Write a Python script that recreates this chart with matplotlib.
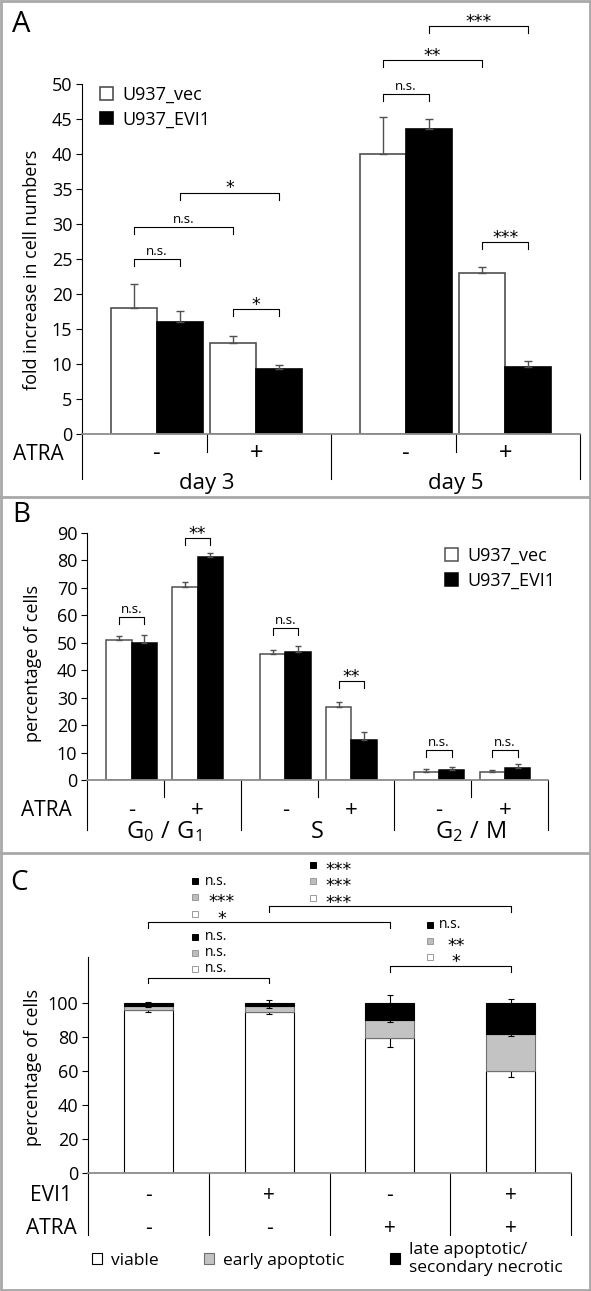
import matplotlib.pyplot as plt
import matplotlib.transforms as mtransforms
from matplotlib.patches import Rectangle
from matplotlib.lines import Line2D

# =============================
# DATA
# =============================
# panel A: fold increase in cell numbers (conditions: day3-, day3+, day5-, day5+)
a_days = ["day 3", "day 5"]
a_atra = ["-", "+", "-", "+"]
a_vec = [18.0, 13.0, 40.0, 23.0]
a_vec_err = [3.5, 1.0, 5.3, 0.9]
a_evi = [16.0, 9.3, 43.6, 9.6]
a_evi_err = [1.6, 0.5, 1.4, 0.9]
a_ticks = [0, 5, 10, 15, 20, 25, 30, 35, 40, 45, 50]
# (condition, series), (condition, series), bracket height, label
a_marks = [((0, 0), (0, 1), 25.0, "n.s."),
           ((0, 0), (1, 0), 29.6, "n.s."),
           ((0, 1), (1, 1), 34.5, "*"),
           ((1, 0), (1, 1), 17.9, "*"),
           ((2, 0), (2, 1), 48.6, "n.s."),
           ((2, 0), (3, 0), 53.4, "**"),
           ((2, 1), (3, 1), 58.3, "***"),
           ((3, 0), (3, 1), 27.4, "***")]

# panel B: cell cycle phases
b_phases = [r"$\mathregular{G_0\ /\ G_1}$", "S", r"$\mathregular{G_2\ /\ M}$"]
b_atra = ["-", "+", "-", "+", "-", "+"]
b_vec = [51.0, 70.3, 46.0, 26.5, 3.0, 2.8]
b_vec_err = [1.5, 2.0, 1.2, 2.0, 1.0, 0.9]
b_evi = [50.0, 81.3, 46.7, 14.7, 3.7, 4.3]
b_evi_err = [2.8, 1.5, 2.0, 2.8, 1.0, 1.7]
b_ticks = [0, 10, 20, 30, 40, 50, 60, 70, 80, 90]
b_mark_y = [59.4, 88.0, 55.5, 36.0, 11.0, 11.0]
b_mark_lab = ["n.s.", "**", "n.s.", "**", "n.s.", "n.s."]

# panel C: viability, stacked
c_evi1 = ["-", "+", "-", "+"]
c_atra = ["-", "-", "+", "+"]
c_viable = [96.0, 95.0, 79.5, 60.0]
c_early = [2.5, 3.0, 10.5, 21.5]
c_late = [1.5, 2.0, 10.0, 18.5]
c_viable_err = [1.0, 1.2, 5.2, 3.6]
c_early_err = [0.6, 1.0, 1.0, 0.8]
c_late_err = [0.5, 1.5, 5.0, 2.2]
c_ticks = [0, 20, 40, 60, 80, 100]
c_legend = ["viable", "early apoptotic", "late apoptotic/\nsecondary necrotic"]
# bar i, bar j, bracket height, marker x, (late, early, viable) labels
c_marks = [(0, 1, 115.0, 0.89, ["n.s.", "n.s.", "n.s."]),
           (0, 2, 147.6, 0.89, ["n.s.", "***", "*"]),
           (1, 3, 157.0, 1.86, ["***", "***", "***"]),
           (2, 3, 122.0, 2.83, ["n.s.", "**", "*"])]

# =============================
# FIGURE
# =============================
plt.rcParams['font.family'] = ['Open Sans', 'DejaVu Sans']
plt.rcParams['mathtext.fontset'] = 'custom'
plt.rcParams['mathtext.rm'] = 'Open Sans'
plt.rcParams['mathtext.it'] = 'Open Sans'

W, H = 591, 1291
fig = plt.figure(figsize=(W / 100, H / 100), dpi=100)
frame_col = "#a8a8a8"
STAR = ['DejaVu Sans']


def fy(py):
    return 1 - py / H


def add_ax(left, right, top, bottom):
    return fig.add_axes([left / W, 1 - bottom / H, (right - left) / W, (bottom - top) / H])


def style(ax, ticks, spine_top):
    for s in ["top", "right"]:
        ax.spines[s].set_visible(False)
    ax.spines["left"].set_bounds(0, spine_top)
    ax.spines["left"].set_linewidth(0.8)
    ax.spines["bottom"].set_color("#8c8c8c")
    ax.spines["bottom"].set_linewidth(1.3)
    ax.set_xticks([])
    ax.set_yticks(ticks)
    ax.tick_params(axis="y", direction="out", length=4, width=0.8, labelsize=13, pad=3)
    ax.patch.set_alpha(0)


def shifted(ax, dx=0, dy=0):
    return mtransforms.offset_copy(ax.transData, fig=fig, x=dx, y=dy, units="dots")


def bracket(ax, x1, x2, y, drop, label, ns_size=9.5, star_size=12.5):
    ax.plot([x1, x1, x2, x2], [y - drop, y, y, y - drop], color="black", lw=0.8, clip_on=False)
    if "*" in label:
        ax.text((x1 + x2) / 2, y, label, ha="center", va="baseline", fontsize=star_size,
                family=STAR, transform=shifted(ax, 0, -1))
    else:
        ax.text((x1 + x2) / 2, y, label, ha="center", va="baseline", fontsize=ns_size,
                transform=shifted(ax, 0, 4))


def vline(ax, x, py_top, py_bot):
    tr = mtransforms.blended_transform_factory(ax.transData, fig.transFigure)
    ax.plot([x, x], [fy(py_top), fy(py_bot)], color="black", lw=0.8, transform=tr, clip_on=False)


def row_text(ax, x, py, s, size):
    tr = mtransforms.blended_transform_factory(ax.transData, fig.transFigure)
    ax.text(x, fy(py), s, ha="center", va="baseline", fontsize=size, transform=tr)


# frames
fig.add_artist(Rectangle((1 / W, 1 / H), (W - 2) / W, (H - 2) / H, transform=fig.transFigure,
                         fill=False, ec=frame_col, lw=2))
for py in [497, 853]:
    fig.add_artist(Line2D([0, 1], [fy(py), fy(py)], color=frame_col, lw=2, transform=fig.transFigure))

# =============================
# PANEL A
# =============================
axA = add_ax(82, 580, 5, 434)
axA.set_xlim(0, 4)
axA.set_ylim(0, 429 / 7.0)
a_w = 0.37


def a_pos(cond, ser):
    p, t = divmod(cond, 2)
    return p * 2 + 0.6 + t * 0.8 + (ser - 0.5) * a_w


bars_a = []
for ser, vals, errs, col, ec in [(0, a_vec, a_vec_err, "white", "#505050"),
                                 (1, a_evi, a_evi_err, "black", "black")]:
    xs = [a_pos(i, ser) for i in range(4)]
    bars_a.append(axA.bar(xs, vals, width=a_w, color=col, edgecolor=ec, lw=1.2))
    axA.errorbar(xs, vals, yerr=[[0] * 4, errs], fmt="none", ecolor="#505050",
                 elinewidth=1, capsize=3, capthick=1)
style(axA, a_ticks, 50)

for (c1, s1), (c2, s2), y, lab in a_marks:
    bracket(axA, a_pos(c1, s1), a_pos(c2, s2), y, 1.0, lab)

axA.legend(bars_a, ["U937_vec", "U937_EVI1"], loc="upper left", bbox_to_anchor=(100 / W, fy(86)),
           bbox_transform=fig.transFigure, frameon=False, fontsize=13, handlelength=0.72,
           handleheight=0.72, handletextpad=0.5, labelspacing=0.35, borderpad=0, borderaxespad=0)

fig.text(64 / W, fy(460), "ATRA", ha="right", va="baseline", fontsize=15)
for i, s in enumerate(a_atra):
    row_text(axA, a_pos(i, 0.5), 460, s, 17)
for k in range(5):
    vline(axA, k, 434, 452 if k % 2 else 479)
for p, d in enumerate(a_days):
    row_text(axA, p * 2 + 1, 489, d, 16)
fig.text(32 / W, fy(270), "fold increase in cell numbers", rotation=90, ha="center", va="center",
         fontsize=13)
fig.text(21 / W, fy(24), "A", ha="center", va="center", fontsize=21)

# =============================
# PANEL B
# =============================
ppu_b = (780 - 533) / 90.0
axB = add_ax(87, 548, 500, 780)
axB.set_xlim(0, 6)
axB.set_ylim(0, 280 / ppu_b)
b_w = 0.33


def b_pos(cond, ser):
    p, t = divmod(cond, 2)
    return p * 2 + 0.58 + t * 0.86 + (ser - 0.5) * b_w


bars_b = []
for ser, vals, errs, col, ec in [(0, b_vec, b_vec_err, "white", "#505050"),
                                 (1, b_evi, b_evi_err, "black", "black")]:
    xs = [b_pos(i, ser) for i in range(6)]
    bars_b.append(axB.bar(xs, vals, width=b_w, color=col, edgecolor=ec, lw=1.1))
    axB.errorbar(xs, vals, yerr=[[0] * 6, errs], fmt="none", ecolor="#505050",
                 elinewidth=1, capsize=2.5, capthick=1)
style(axB, b_ticks, 90)

for i, (y, lab) in enumerate(zip(b_mark_y, b_mark_lab)):
    bracket(axB, b_pos(i, 0), b_pos(i, 1), y, 2.5, lab)

axB.legend(bars_b, ["U937_vec", "U937_EVI1"], loc="upper left", bbox_to_anchor=(445 / W, fy(547)),
           bbox_transform=fig.transFigure, frameon=False, fontsize=13, handlelength=0.72,
           handleheight=0.72, handletextpad=0.5, labelspacing=0.38, borderpad=0, borderaxespad=0)

fig.text(72 / W, fy(816), "ATRA", ha="right", va="baseline", fontsize=15)
for i, s in enumerate(b_atra):
    row_text(axB, b_pos(i, 0.5), 816, s, 16)
for k in range(7):
    vline(axB, k, 780, 797 if k % 2 else 830)
for p, ph in enumerate(b_phases):
    row_text(axB, p * 2 + 1, 838, ph, 17)
fig.text(33 / W, fy(663), "percentage of cells", rotation=90, ha="center", va="center", fontsize=13)
fig.text(21 / W, fy(515), "B", ha="center", va="center", fontsize=20)

# =============================
# PANEL C
# =============================
ppu_c = 1.7
axC = add_ax(88, 571, 858, 1173)
axC.set_xlim(0, 4)
axC.set_ylim(0, 315 / ppu_c)
c_w = 0.405
xs_c = [i + 0.5 for i in range(4)]
early_base = c_viable
late_base = [v + e for v, e in zip(c_viable, c_early)]
tops_late = [b + l for b, l in zip(late_base, c_late)]

h_v = axC.bar(xs_c, c_viable, width=c_w, color="white", edgecolor="black", lw=0.8, zorder=1)
axC.errorbar(xs_c, c_viable, yerr=c_viable_err, fmt="none", ecolor="black", elinewidth=0.8,
             capsize=2, capthick=0.8, zorder=2)
h_e = axC.bar(xs_c, c_early, bottom=early_base, width=c_w, color="#c3c3c3", edgecolor="#707070",
              lw=0.8, zorder=3)
axC.errorbar(xs_c, late_base, yerr=c_early_err, fmt="none", ecolor="black", elinewidth=0.8,
             capsize=2, capthick=0.8, zorder=4)
h_l = axC.bar(xs_c, c_late, bottom=late_base, width=c_w, color="black", edgecolor="black",
              lw=0.8, zorder=5)
axC.errorbar(xs_c, tops_late, yerr=c_late_err, fmt="none", ecolor="black", elinewidth=0.8,
             capsize=2, capthick=0.8, zorder=6)
style(axC, c_ticks, 127)

row_cols = [("black", "black"), ("#bdbdbd", "#9a9a9a"), ("white", "#9a9a9a")]
row_off = [24.0, 14.5, 5.0]
for i, j, y, mx, labs in c_marks:
    axC.plot([xs_c[i], xs_c[i], xs_c[j], xs_c[j]], [y - 3.5, y, y, y - 3.5], color="black",
             lw=0.8, clip_on=False)
    for (fc, ec), off, lab in zip(row_cols, row_off, labs):
        axC.plot([mx], [y + off], marker="s", ms=5, mfc=fc, mec=ec, mew=0.7, clip_on=False)
        if "*" in lab:
            axC.text(mx, y + off, lab, ha="center", va="center", fontsize=12.5, family=STAR,
                     transform=shifted(axC, 26, -5))
        else:
            axC.text(mx, y + off, lab, ha="left", va="center", fontsize=10,
                     transform=shifted(axC, 9, 0))

fig.text(72 / W, fy(1201), "EVI1", ha="right", va="baseline", fontsize=15)
fig.text(77 / W, fy(1234), "ATRA", ha="right", va="baseline", fontsize=15)
for i in range(4):
    row_text(axC, xs_c[i], 1201, c_evi1[i], 15)
    row_text(axC, xs_c[i], 1234, c_atra[i], 15)
for k in range(5):
    vline(axC, k, 1173, 1235)
fig.text(33 / W, fy(1068), "percentage of cells", rotation=90, ha="center", va="center", fontsize=13)
fig.text(19 / W, fy(883), "C", ha="center", va="center", fontsize=20)

axC.legend([h_v, h_e, h_l], c_legend, loc="center left", bbox_to_anchor=(92 / W, fy(1259)),
           bbox_transform=fig.transFigure, frameon=False, fontsize=12.5, ncol=3, handlelength=0.6,
           handleheight=0.6, handletextpad=0.5, columnspacing=2.6, borderpad=0, borderaxespad=0)

fig.savefig("out.png", dpi=100)
